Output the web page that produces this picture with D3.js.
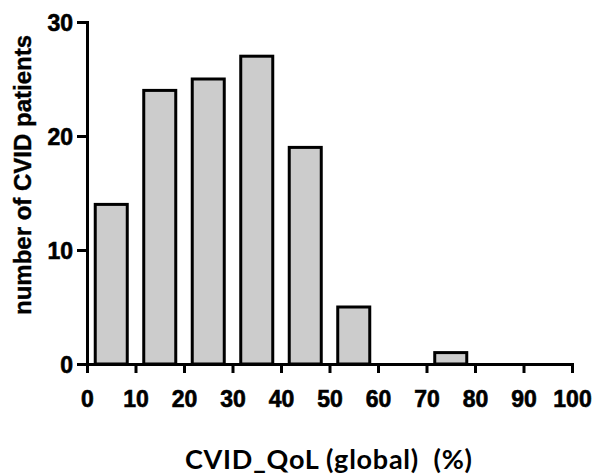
<!DOCTYPE html>
<html>
<head>
<meta charset="utf-8">
<script src="https://cdn.jsdelivr.net/npm/d3@7"></script>
<style>
  body { margin: 0; background: #fff; }
  .tick text { font-family: "Liberation Sans", Arial, sans-serif; font-weight: bold; font-size: 23px; fill: #000; stroke: #000; stroke-width: 0.6px; }
</style>
</head>
<body>
<svg id="chart" width="596" height="474"></svg>
<script>
// histogram bins (lower edge, %) and patient counts
let binStart = [0, 10, 20, 30, 40, 50, 60, 70, 80, 90];
let counts = [14, 24, 25, 27, 19, 5, 0, 1, 0, 0];
let xTicks = [0, 10, 20, 30, 40, 50, 60, 70, 80, 90, 100];
let yTicks = [0, 10, 20, 30];

let svg = d3.select("#chart");
let x = d3.scaleLinear().domain([0, 100]).range([87, 572]);
let y = d3.scaleLinear().domain([0, 30]).range([364, 22]);

let barW = 6.6; // in data units

let bins = binStart.map((d, i) => ({start: d, count: counts[i]})).filter(d => d.count > 0);

svg.append("g")
    .selectAll("rect")
    .data(bins)
    .join("rect")
    .attr("x", d => x(d.start + 5 - barW / 2))
    .attr("y", d => y(d.count))
    .attr("width", x(barW) - x(0))
    .attr("height", d => y(0) - y(d.count))
    .attr("fill", "#cccccc")
    .attr("stroke", "#000")
    .attr("stroke-width", 3);

let yAxis = svg.append("g")
    .attr("transform", "translate(87,0)")
    .call(d3.axisLeft(y).tickValues(yTicks).tickSize(10).tickPadding(4).tickFormat(d3.format("d")));

let xAxis = svg.append("g")
    .attr("transform", "translate(0,364)")
    .call(d3.axisBottom(x).tickValues(xTicks).tickSize(9).tickPadding(18).tickFormat(d3.format("d")));

[yAxis, xAxis].forEach(g => {
    g.select(".domain").attr("stroke", "#000").attr("stroke-width", 3);
    g.selectAll(".tick line").attr("stroke", "#000").attr("stroke-width", 3);
});
yAxis.selectAll(".tick text").attr("dy", "0.36em");

svg.append("text")
    .attr("transform", "translate(31,175) rotate(-90)")
    .attr("text-anchor", "middle")
    .style("font-family", "Liberation Sans, Arial, sans-serif")
    .style("font-weight", "bold")
    .style("font-size", "24px")
    .attr("fill", "#000")
    .attr("stroke", "#000")
    .attr("stroke-width", 0.4)
    .text("number of CVID patients");

svg.append("text")
    .attr("x", 185)
    .attr("y", 469)
    .attr("textLength", 287)
    .attr("lengthAdjust", "spacing")
    .style("font-family", "Lato, sans-serif")
    .style("font-weight", "bold")
    .style("font-size", "27px")
    .attr("fill", "#000")
    .attr("xml:space", "preserve")
    .text("CVID_QoL (global)  (%)");
</script>
</body>
</html>
